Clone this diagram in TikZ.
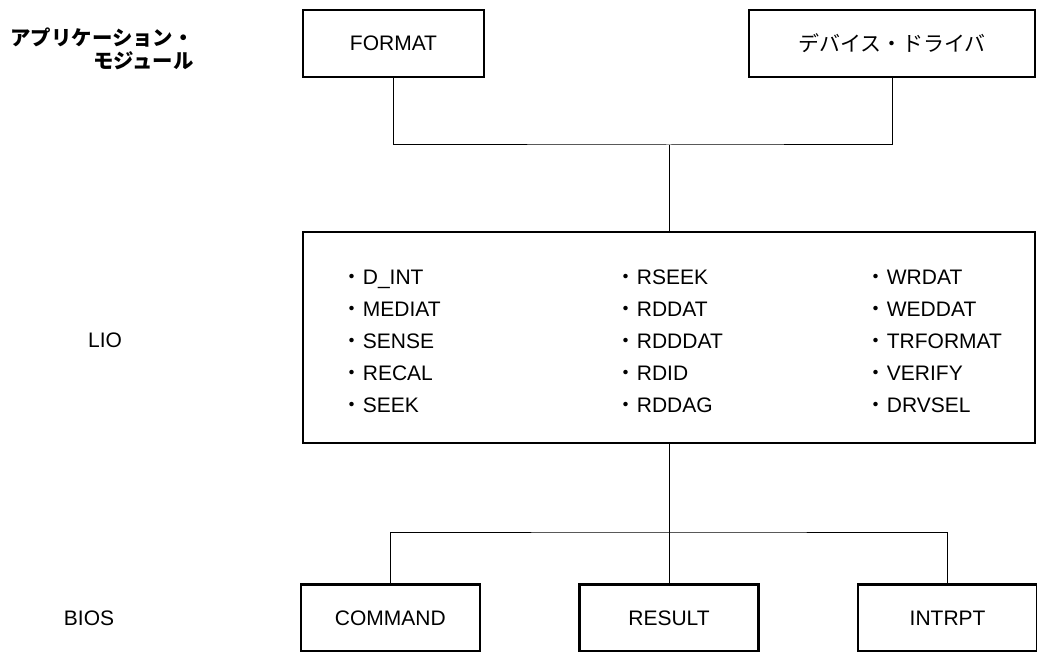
\documentclass[tikz,border=0pt]{standalone}
\usepackage{fontspec}
\setmainfont{Liberation Sans}
\newfontfamily\cjk{Noto Sans CJK JP}
\usetikzlibrary{positioning}
\newcommand{\lioitem}[1]{{\cjk ・}#1}

\begin{document}
\begin{tikzpicture}[
  x=0.5pt, y=-0.5pt,
  node distance=16pt and 48.5pt,
  box/.style={draw, line width=1.3pt, align=center, font=\fontsize{10.5}{12}\selectfont, inner sep=0pt, minimum height=33.5pt},
  item/.style={anchor=west, inner sep=0pt, text height=8pt, text depth=2.5pt, font=\fontsize{10.5}{12}\selectfont},
  layer/.style={inner sep=0pt, font=\fontsize{10.5}{12}\selectfont},
  link/.style={line width=0.5pt}
]
\useasboundingbox (0,0) rectangle (1037,652);

\node[anchor=east, align=right, inner sep=0pt, font=\cjk\bfseries\fontsize{10.2}{11.5}\selectfont] (applbl) at (194,48.5) {アプリケーション・\\モジュール};
\node[layer] (liolbl) at (105,340) {LIO};
\node[layer] (bioslbl) at (89,618) {BIOS};

\node[box, minimum width=90.5pt] (format) at (393.5,43.5) {FORMAT};
\node[box, minimum width=143pt] (driver) at (892,43.5) {\cjk デバイス・ドライバ};
\node[box, minimum width=366pt, minimum height=105.5pt] (lio) at (669,337.5) {};

\node[item] (dint) at (341.5,279) {\lioitem{D\_INT}};
\node[item, below=of dint.west, anchor=west] (mediat) {\lioitem{MEDIAT}};
\node[item, below=of mediat.west, anchor=west] (sense) {\lioitem{SENSE}};
\node[item, below=of sense.west, anchor=west] (recal) {\lioitem{RECAL}};
\node[item, below=of recal.west, anchor=west] (seek) {\lioitem{SEEK}};

\node[item] (rseek) at (615.5,279) {\lioitem{RSEEK}};
\node[item, below=of rseek.west, anchor=west] (rddat) {\lioitem{RDDAT}};
\node[item, below=of rddat.west, anchor=west] (rdddat) {\lioitem{RDDDAT}};
\node[item, below=of rdddat.west, anchor=west] (rdid) {\lioitem{RDID}};
\node[item, below=of rdid.west, anchor=west] (rddag) {\lioitem{RDDAG}};

\node[item] (wrdat) at (865.5,279) {\lioitem{WRDAT}};
\node[item, below=of wrdat.west, anchor=west] (weddat) {\lioitem{WEDDAT}};
\node[item, below=of weddat.west, anchor=west] (trformat) {\lioitem{TRFORMAT}};
\node[item, below=of trformat.west, anchor=west] (verify) {\lioitem{VERIFY}};
\node[item, below=of verify.west, anchor=west] (drvsel) {\lioitem{DRVSEL}};

\node[box, minimum width=89.5pt] (result) at (669,618) {RESULT};
\node[box, minimum width=89.5pt, left=of result] (command) {COMMAND};
\node[box, minimum width=89.5pt, right=of result] (intrpt) {INTRPT};

\coordinate (jtop) at (669,145);
\coordinate (jbot) at (669,532);

\draw[link] (format.south) |- (jtop) -| (driver.south);
\draw[link] (jtop) -- (lio.north);
\draw[link] (lio.south) -- (jbot);
\draw[link] (command.north) |- (jbot) -| (intrpt.north);
\draw[link] (jbot) -- (result.north);
\end{tikzpicture}
\end{document}
